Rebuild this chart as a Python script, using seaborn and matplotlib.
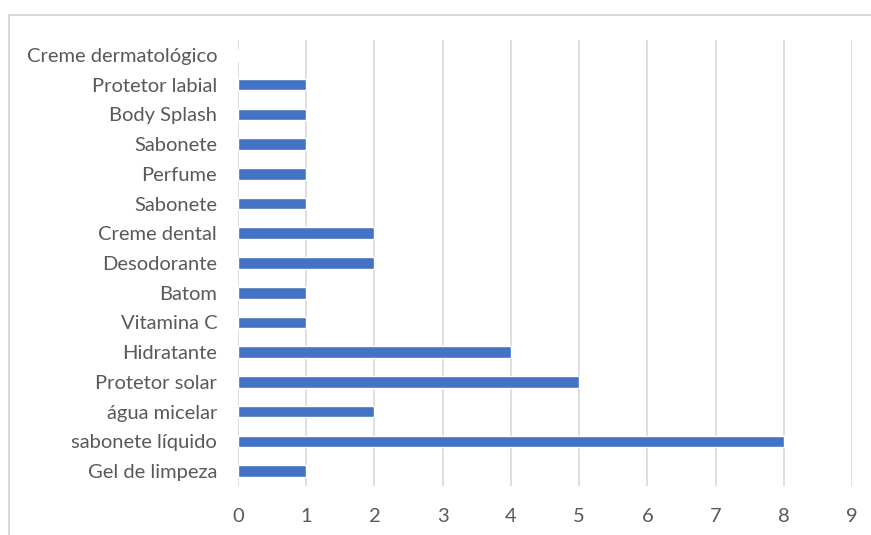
import matplotlib
matplotlib.use("Agg")
import matplotlib.pyplot as plt
import seaborn as sns
import pandas as pd
from matplotlib.patches import Rectangle

categories = ["Creme dermatológico", "Protetor labial", "Body Splash", "Sabonete",
              "Perfume", "Sabonete", "Creme dental", "Desodorante", "Batom",
              "Vitamina C", "Hidratante", "Protetor solar", "água micelar",
              "sabonete líquido", "Gel de limpeza"]
values = [0, 1, 1, 1, 1, 1, 2, 2, 1, 1, 4, 5, 2, 8, 1]
x_ticks = [0, 1, 2, 3, 4, 5, 6, 7, 8, 9]

sns.set_theme(style="white")
plt.rcParams['font.family'] = ['Lato', 'DejaVu Sans']

df = pd.DataFrame({"key": [f"{i}" for i in range(len(categories))],
                   "value": values})

fig = plt.figure(figsize=(8.71, 5.35), dpi=100)
fig.patches.append(Rectangle((9/871, -0.1), 1.1, 1 - 15/535 + 0.1,
                             transform=fig.transFigure, fill=False,
                             edgecolor="#D9D9D9", linewidth=1.5))
ax = fig.add_axes([238/871, 1 - 486/535, 614/871, 446/535])
sns.barplot(data=df, x="value", y="key", orient="h", color="#4472C4",
            saturation=1, width=0.39, ax=ax, zorder=3)
ax.set_yticks(range(len(categories)))
ax.set_yticklabels(categories)
ax.set_xlim(0, 9)
ax.set_ylim(len(categories) - 0.5, -0.5)
ax.set_xticks(x_ticks)
ax.set_xticklabels([str(t) for t in x_ticks])
ax.grid(axis="x", color="#D9D9D9", linewidth=1.2, zorder=0)
ax.set_axisbelow(True)
for s in ax.spines.values():
    s.set_visible(False)
ax.tick_params(axis="both", length=0, labelsize=14.5, labelcolor="#595959")
ax.tick_params(axis="x", pad=16)
ax.tick_params(axis="y", pad=15)
ax.set_xlabel("")
ax.set_ylabel("")
fig.savefig("out.png", dpi=100)
